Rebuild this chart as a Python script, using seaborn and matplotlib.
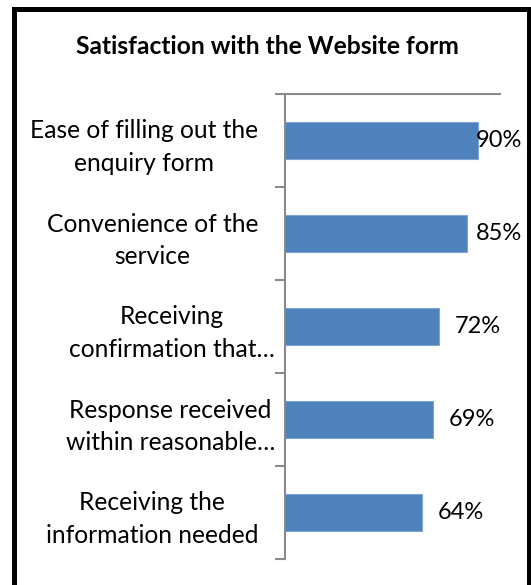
import numpy as np
import matplotlib
matplotlib.use("Agg")
import matplotlib.pyplot as plt
import matplotlib.transforms as mtransforms
from matplotlib.patches import Rectangle
import seaborn as sns
import pandas as pd

# ---- data ----
categories = [
    "Ease of filling out the\nenquiry form",
    "Convenience of the\nservice",
    "Receiving\nconfirmation that…",
    "Response received\nwithin reasonable…",
    "Receiving the\ninformation needed",
]
values = [90, 85, 72, 69, 64]
title = "Satisfaction with the Website form"

sns.set_theme(style="white")
plt.rcParams["font.family"] = ["Lato", "DejaVu Sans"]

W, H = 531, 585
fig = plt.figure(figsize=(W / 100, H / 100), dpi=100)
fig.patch.set_facecolor("white")

ax_left, ax_right, ax_top, ax_bot = 284.5, 499.5, 94, 559
ax = fig.add_axes([ax_left / W, 1 - ax_bot / H, (ax_right - ax_left) / W, (ax_bot - ax_top) / H])

df = pd.DataFrame({"category": categories, "value": values})
sns.barplot(data=df, x="value", y="category", orient="h", color="#4F81BD",
            saturation=1, width=0.4, edgecolor="#7FA5D6", linewidth=0.8, ax=ax)

ax.set_xlim(0, 100)
ax.set_ylim(len(categories) - 0.5, -0.5)
ax.set_xlabel("")
ax.set_ylabel("")
ax.set_xticks([])

axis_gray = "#8A8A8A"
for s in ["right", "bottom"]:
    ax.spines[s].set_visible(False)
for s in ["left", "top"]:
    ax.spines[s].set_visible(True)
    ax.spines[s].set_color(axis_gray)
    ax.spines[s].set_linewidth(1.5)

ax.set_yticks(np.arange(len(categories)))
ax.set_yticklabels(categories, fontsize=17.7, multialignment="center", color="black",
                   linespacing=1.5)
ax.set_yticks(np.arange(-0.5, len(categories), 1), minor=True)
ax.tick_params(axis="y", which="major", length=0, pad=19)
ax.tick_params(axis="y", which="minor", length=7.2, width=1.5, color=axis_gray, left=True)

# Excel-style ellipsis overflow: shift truncated labels right
for lab in ax.get_yticklabels():
    if lab.get_text().endswith("…"):
        lab.set_transform(lab.get_transform() + mtransforms.ScaledTranslation(17 / 100, 0, fig.dpi_scale_trans))

for i, v in enumerate(values):
    x = min(v + 7.4, 89)
    ax.text(x, i, f"{v}%", ha="left", va="center", fontsize=17, color="black")

fig.text(267 / W, 1 - 47 / H, title, ha="center", va="center", fontsize=17.7,
         fontweight="bold", color="black")

border = Rectangle((13.5 / W, -0.05), (528.5 - 13.5) / W, (1 - 8.5 / H) + 0.05,
                   transform=fig.transFigure, fill=False, edgecolor="black",
                   linewidth=3.6, joinstyle="miter", clip_on=False)
fig.patches.append(border)

fig.savefig("out.png", dpi=100)
